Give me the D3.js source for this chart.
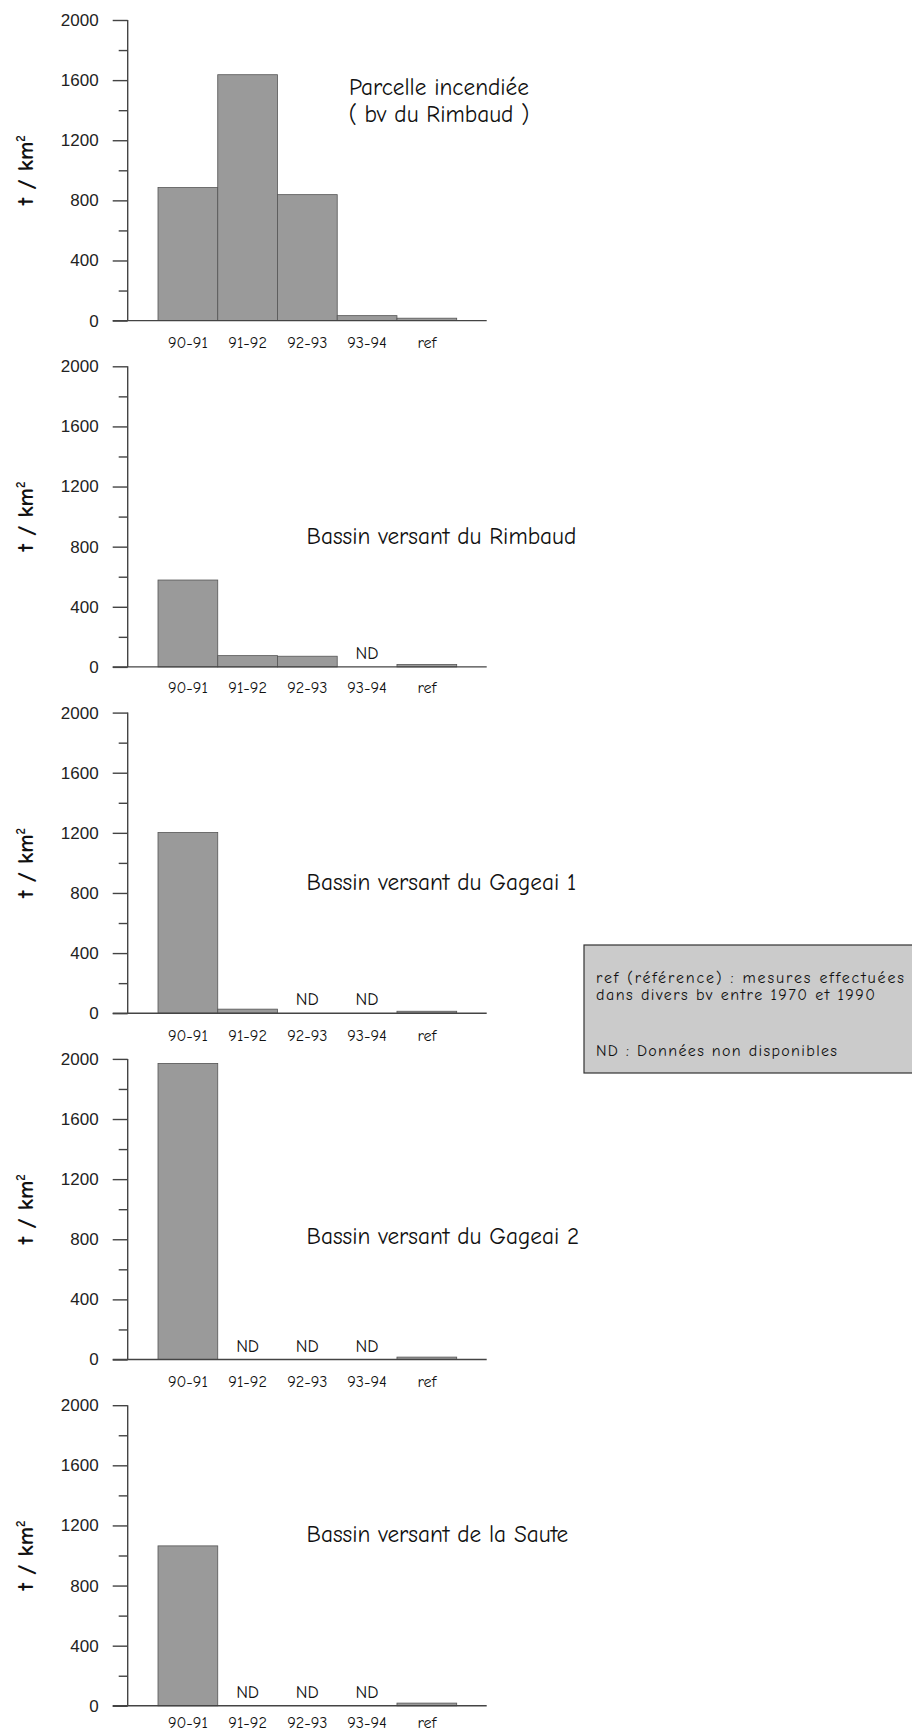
<!DOCTYPE html>
<html>
<head>
<meta charset="utf-8">
<script src="https://cdn.jsdelivr.net/npm/d3@7"></script>
<style>
  html, body { margin: 0; padding: 0; background: #fff; }
  svg { display: block; }
</style>
</head>
<body>
<svg id="chart" width="912" height="1731"></svg>
<script>
// ---- data ----
const categories = ["90-91", "91-92", "92-93", "93-94", "ref"];
const yTicksMajor = [0, 400, 800, 1200, 1600, 2000];
const yTicksMinor = [200, 600, 1000, 1400, 1800];
const titleParcelle = ["Parcelle incendiée", "( bv du Rimbaud )"];
const titleRimbaud = ["Bassin versant du Rimbaud"];
const titleGageai1 = ["Bassin versant du Gageai 1"];
const titleGageai2 = ["Bassin versant du Gageai 2"];
const titleSaute = ["Bassin versant de la Saute"];
// null = ND (données non disponibles)
const valuesParcelle = [885, 1636, 838, 33, 16];
const valuesRimbaud = [578, 75, 71, null, 16];
const valuesGageai1 = [1202, 27, null, null, 13];
const valuesGageai2 = [1970, null, null, null, 16];
const valuesSaute = [1064, null, null, null, 18];
const legendLines = ["ref (référence) : mesures effectuées", "dans divers bv entre 1970 et 1990", "ND : Données non disponibles"];
const yLabel = "t / km";
const ndLabel = "ND";

// ---- layout ----
const svg = d3.select("#chart");
const COMIC = "'Comic Sans MS', 'Comic Neue', 'DejaVu Sans', sans-serif";
const ARIAL = "'Liberation Sans', Arial, sans-serif";

function fitFont(text, family, target, base) {
  const t = svg.append("text").style("font-family", family).style("font-size", base + "px").text(text);
  const w = t.node().getComputedTextLength();
  t.remove();
  return base * target / w;
}
const titleSize = fitFont("Bassin versant du Rimbaud", COMIC, 270, 20);
const catSize = fitFont("90-91", COMIC, 40, 14);
const ndSize = fitFont("ND", COMIC, 23, 14);

const panels = [
  { values: valuesParcelle, title: titleParcelle, centered: true, tdy: [75, 101.7], lab: 16 },
  { values: valuesRimbaud, title: titleRimbaud, centered: false, tdy: [178], lab: 15 },
  { values: valuesGageai1, title: titleGageai1, centered: false, tdy: [177.5], lab: 16 },
  { values: valuesGageai2, title: titleGageai2, centered: false, tdy: [185], lab: 16 },
  { values: valuesSaute, title: titleSaute, centered: false, tdy: [137], lab: 11 }
];

const axisX = 127.7;
const top0 = 20;
const step = 346.3;
const plotH = 300.6;

const x = d3.scaleBand().domain(categories).range([158, 456.7]).padding(0);

panels.forEach((p, i) => {
  const top = top0 + i * step;
  const zero = top + plotH;
  const y = d3.scaleLinear().domain([0, 2000]).range([zero, top]);
  const g = svg.append("g");

  // bars
  const data = categories.map((c, k) => ({ c, v: p.values[k] }));
  g.selectAll("rect.bar").data(data.filter(d => d.v !== null)).join("rect")
    .attr("class", "bar")
    .attr("x", d => x(d.c))
    .attr("y", d => y(d.v))
    .attr("width", x.bandwidth())
    .attr("height", d => y(0) - y(d.v))
    .attr("fill", "#9a9a9a")
    .attr("stroke", "#555")
    .attr("stroke-width", 0.8);

  // ND labels
  g.selectAll("text.nd").data(data.filter(d => d.v === null)).join("text")
    .attr("class", "nd")
    .attr("x", d => x(d.c) + x.bandwidth() / 2)
    .attr("y", zero - 8)
    .attr("text-anchor", "middle")
    .style("font-family", COMIC).style("font-size", ndSize + "px").attr("fill", "#111")
    .text(ndLabel);

  // y axis major
  const ya = g.append("g").attr("transform", `translate(${axisX},0)`)
    .call(d3.axisLeft(y).tickValues(yTicksMajor).tickSize(15).tickPadding(14).tickFormat(d3.format("d")));
  ya.select(".domain").attr("stroke", "#444").attr("stroke-width", 1.4).attr("d", `M0,${top}V${zero}`);
  ya.selectAll(".tick line").attr("stroke", "#444").attr("stroke-width", 1.4);
  ya.selectAll(".tick text").style("font-family", ARIAL).style("font-size", "17px").attr("fill", "#222");

  // y axis minor
  const ym = g.append("g").attr("transform", `translate(${axisX},0)`)
    .call(d3.axisLeft(y).tickValues(yTicksMinor).tickSize(9).tickFormat(""));
  ym.select(".domain").remove();
  ym.selectAll(".tick line").attr("stroke", "#444").attr("stroke-width", 1.4);

  // baseline
  g.append("line")
    .attr("x1", axisX - 15).attr("x2", x.range()[1] + 30)
    .attr("y1", y(0)).attr("y2", y(0))
    .attr("stroke", "#444").attr("stroke-width", 1.4);

  // category labels
  const xa = g.append("g").attr("transform", `translate(0,${zero})`)
    .call(d3.axisBottom(x).tickSize(0).tickPadding(p.lab));
  xa.select(".domain").remove();
  xa.selectAll(".tick text").style("font-family", COMIC).style("font-size", catSize + "px").attr("fill", "#111");

  // y label
  const yl = g.append("text")
    .attr("transform", `translate(33,${(top + zero) / 2}) rotate(-90)`)
    .attr("text-anchor", "middle")
    .style("font-family", COMIC).style("font-size", "23px").style("font-weight", "bold").attr("fill", "#111");
  yl.append("tspan").text(yLabel);
  yl.append("tspan").attr("dy", "-0.6em").style("font-size", "13px").text("2");

  // title
  p.title.forEach((t, k) => {
    g.append("text")
      .attr("x", p.centered ? 439 : 306.5)
      .attr("y", top + p.tdy[k])
      .attr("text-anchor", p.centered ? "middle" : "start")
      .style("font-family", COMIC).style("font-size", titleSize + "px").attr("fill", "#111")
      .text(t);
  });
});

// legend box
const lg = svg.append("g");
lg.append("rect")
  .attr("x", 584).attr("y", 945).attr("width", 340).attr("height", 128)
  .attr("fill", "#cbcbcb").attr("stroke", "#333").attr("stroke-width", 1.2);
const legendBase = [983, 999.5, 1056];
const legendWidth = [308, 279, 241];
legendLines.forEach((t, k) => {
  lg.append("text")
    .attr("x", 596).attr("y", legendBase[k])
    .attr("textLength", legendWidth[k]).attr("lengthAdjust", "spacing")
    .style("font-family", COMIC).style("font-size", "16px").attr("fill", "#111")
    .text(t);
});
</script>
</body>
</html>
